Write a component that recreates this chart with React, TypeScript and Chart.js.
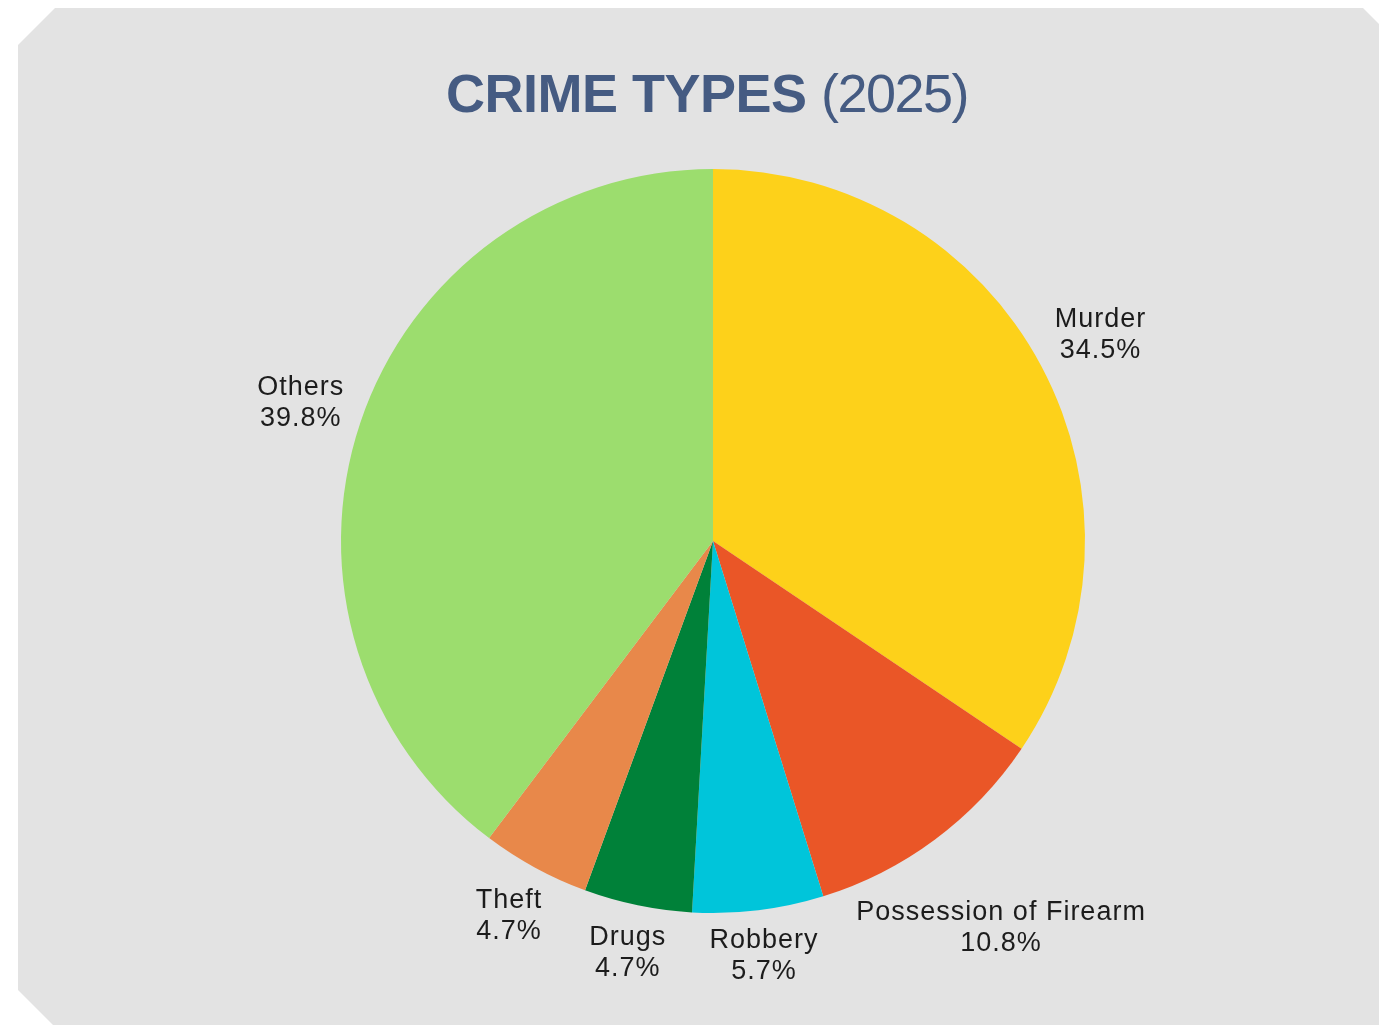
import React, { useEffect, useRef } from "react";
import { Chart, registerables } from "chart.js";

Chart.register(...registerables);

const categories = ["Murder", "Possession of Firearm", "Robbery", "Drugs", "Theft", "Others"];
const shares = [34.5, 10.8, 5.7, 4.7, 4.7, 39.8];
const sliceColors = ["#FDD11A", "#EA5627", "#00C5DA", "#008139", "#E8884A", "#9CDD6E"];
const titleBold = "CRIME TYPES";
const titleRest = "(2025)";

const W = 1379;
const H = 1025;

const panelPlugin = {
  id: "panel",
  beforeDraw(chart: any) {
    const ctx = chart.ctx as CanvasRenderingContext2D;
    ctx.save();
    ctx.fillStyle = "#ffffff";
    ctx.fillRect(0, 0, W, H);
    ctx.fillStyle = "#e3e3e3";
    ctx.beginPath();
    ctx.moveTo(55, 8);
    ctx.lineTo(1363, 8);
    ctx.lineTo(1400, 45);
    ctx.lineTo(1400, 1040);
    ctx.lineTo(68, 1040);
    ctx.lineTo(18, 990);
    ctx.lineTo(18, 45);
    ctx.closePath();
    ctx.fill();
    ctx.restore();
  },
};

const titlePlugin = {
  id: "customTitle",
  afterDraw(chart: any) {
    const ctx = chart.ctx as CanvasRenderingContext2D;
    ctx.save();
    ctx.fillStyle = "#455b82";
    ctx.textBaseline = "alphabetic";
    ctx.textAlign = "left";
    const boldFont = "bold 54px 'Liberation Sans', Arial, sans-serif";
    const regFont = "54px 'Liberation Sans', Arial, sans-serif";
    ctx.font = boldFont;
    (ctx as any).letterSpacing = "-0.5px";
    const wb = ctx.measureText(titleBold + " ").width;
    ctx.font = regFont;
    (ctx as any).letterSpacing = "-1.5px";
    const wr = ctx.measureText(titleRest).width;
    const x0 = 707 - (wb + wr) / 2;
    const y = 112;
    ctx.font = boldFont;
    (ctx as any).letterSpacing = "-0.5px";
    ctx.fillText(titleBold + " ", x0, y);
    ctx.font = regFont;
    (ctx as any).letterSpacing = "-1.5px";
    ctx.fillText(titleRest, x0 + wb, y);
    ctx.restore();
  },
};

const labelPlugin = {
  id: "outerLabels",
  afterDatasetsDraw(chart: any) {
    const ctx = chart.ctx as CanvasRenderingContext2D;
    const meta = chart.getDatasetMeta(0);
    const data = chart.data.datasets[0].data as number[];
    const lh = 31;
    const pad = 12;
    ctx.save();
    ctx.font = "27px 'Liberation Sans', Arial, sans-serif";
    (ctx as any).letterSpacing = "1px";
    ctx.fillStyle = "#1c1c1c";
    ctx.textAlign = "center";
    ctx.textBaseline = "middle";
    meta.data.forEach((arc: any, i: number) => {
      const { x, y, startAngle, endAngle, outerRadius } = arc.getProps(
        ["x", "y", "startAngle", "endAngle", "outerRadius"],
        true
      );
      const mid = (startAngle + endAngle) / 2;
      const dx = Math.cos(mid);
      const dy = Math.sin(mid);
      const l1 = chart.data.labels[i] as string;
      const l2 = data[i].toFixed(1) + "%";
      const w = Math.max(ctx.measureText(l1).width, ctx.measureText(l2).width);
      const h = lh * 2;
      const target = outerRadius + pad;
      const nearest = (t: number) => {
        const cx = dx * t;
        const cy = dy * t;
        const nx = Math.max(cx - w / 2, Math.min(0, cx + w / 2));
        const ny = Math.max(cy - h / 2, Math.min(0, cy + h / 2));
        return Math.hypot(nx, ny);
      };
      let lo = 0;
      let hi = outerRadius + 600;
      for (let k = 0; k < 60; k++) {
        const m = (lo + hi) / 2;
        if (nearest(m) < target) lo = m;
        else hi = m;
      }
      const cx = x + dx * hi;
      const cy = y + dy * hi;
      ctx.fillText(l1, cx, cy - lh / 2);
      ctx.fillText(l2, cx, cy + lh / 2);
    });
    ctx.restore();
  },
};

export default function App() {
  const ref = useRef<HTMLCanvasElement | null>(null);
  useEffect(() => {
    if (!ref.current) return;
    const chart = new Chart(ref.current, {
      type: "pie",
      data: {
        labels: categories,
        datasets: [
          {
            data: shares,
            backgroundColor: sliceColors,
            borderWidth: 0,
          },
        ],
      },
      options: {
        animation: false,
        responsive: true,
        maintainAspectRatio: false,
        layout: { padding: { left: 341, right: 294, top: 169, bottom: 112 } },
        plugins: {
          legend: { display: false },
          title: { display: false },
          tooltip: { enabled: false },
        },
      },
      plugins: [panelPlugin, titlePlugin, labelPlugin],
    });
    return () => chart.destroy();
  }, []);
  return (
    <div style={{ position: "absolute", left: 0, top: 0, width: W, height: H, background: "#ffffff" }}>
      <canvas ref={ref} />
    </div>
  );
}
